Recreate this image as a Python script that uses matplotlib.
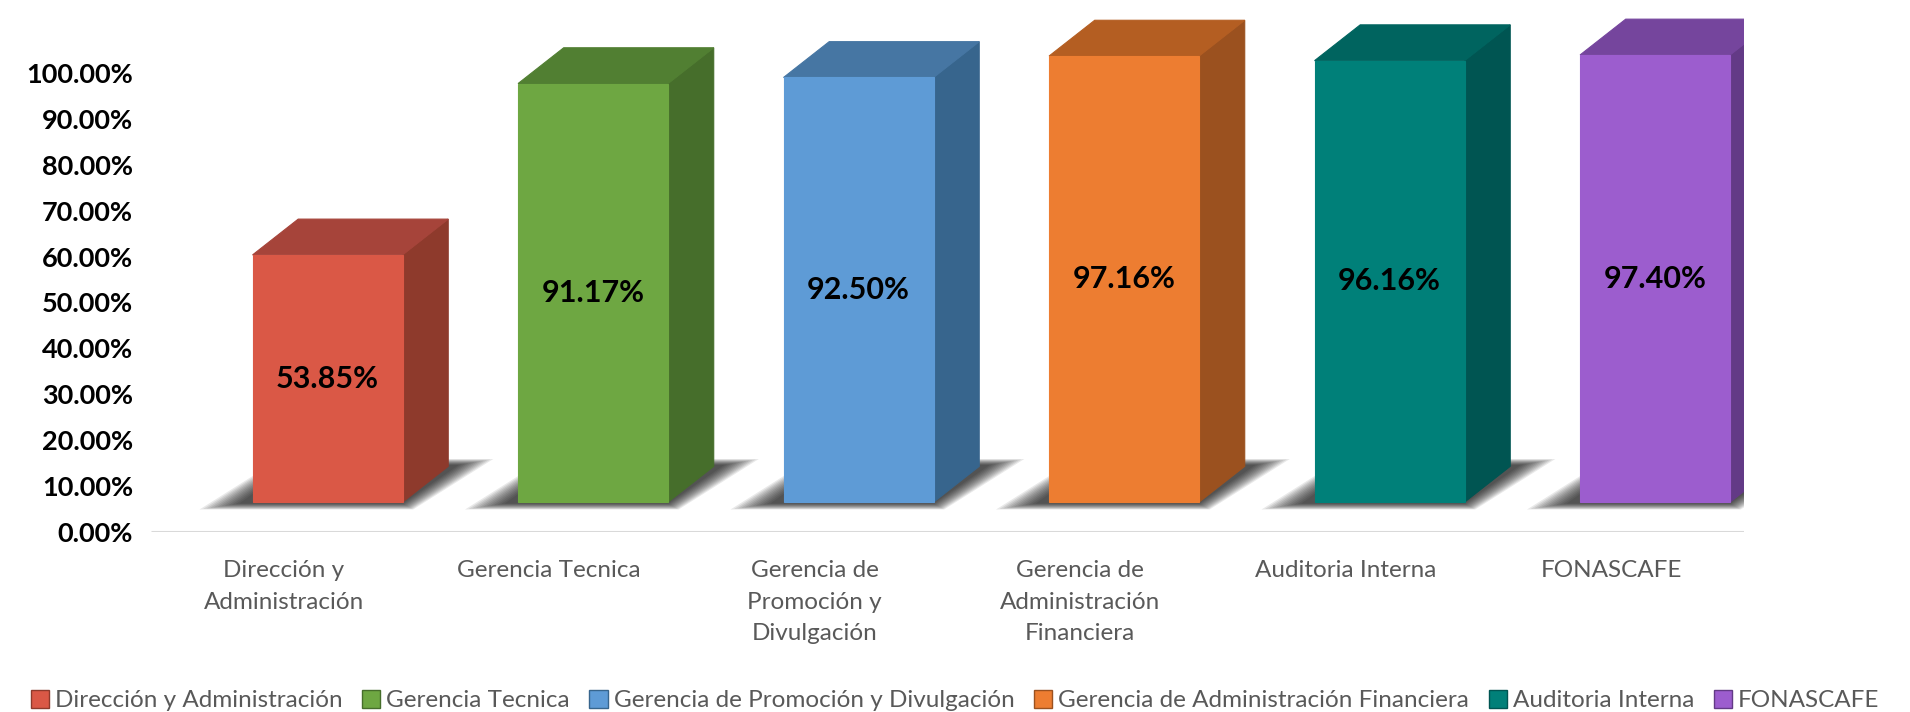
import matplotlib.pyplot as plt
from matplotlib.patches import Polygon, Rectangle, Patch

categories = ['Dirección y Administración', 'Gerencia Tecnica',
              'Gerencia de Promoción y Divulgación',
              'Gerencia de Administración Financiera',
              'Auditoria Interna', 'FONASCAFE']
tick_labels = ['Dirección y\nAdministración', 'Gerencia Tecnica',
               'Gerencia de\nPromoción y\nDivulgación',
               'Gerencia de\nAdministración\nFinanciera',
               'Auditoria Interna', 'FONASCAFE']
values = [53.85, 91.17, 92.50, 97.16, 96.16, 97.40]
y_ticks = [0, 10, 20, 30, 40, 50, 60, 70, 80, 90, 100]

front_colors = ['#DA5846', '#6EA742', '#5E9BD6', '#ED7D31', '#008079', '#9C5DCE']
side_colors = ['#8E3A2C', '#466E2B', '#37658D', '#9B511F', '#005552', '#633A86']
top_colors = ['#A6443A', '#517F32', '#4676A3', '#B45E22', '#00645F', '#75459D']

plt.rcParams['font.family'] = ['Lato', 'DejaVu Sans']

W, H = 1910, 712
fig = plt.figure(figsize=(W / 100, H / 100), dpi=100)
ax = fig.add_axes([151 / W, 180 / H, (1744 - 151) / W, 528 / H])
ax.set_xlim(-0.5, 5.5)
ax.set_ylim(0, 115)

# 3d look parameters (data units)
shift = 0.165   # front face offset from category centre
width = 0.565
lift = 6.5      # front face floats above the floor
dx, dy = 0.172, 7.8

# floor line
ax.plot([-0.5, 5.5], [0, 0], color='#D9D9D9', lw=2.2, zorder=1,
        solid_capstyle='butt')

for i, v in enumerate(values):
    x0 = i + shift - width / 2
    x1 = x0 + width
    b = lift
    t = lift + v

    # soft shadow on the floor, layered from wide/light to tight/dark
    n = 12
    for k in range(n):
        f = 1 - k / (n - 1)   # 1 = outermost
        yb = b - 0.3 - 1.3 * f
        yt = b + dy + 0.3 + 1.3 * f
        sh = [(x0 - 0.05 - 0.15 * f, yb),
              (x1 + 0.0 + 0.04 * f, yb),
              (x1 + dx + 0.04 + 0.13 * f, yt),
              (x0 + dx - 0.02 - 0.05 * f, yt)]
        ax.add_patch(Polygon(sh, closed=True, facecolor='black',
                             edgecolor='none', alpha=0.085, zorder=2))

    # side face
    side = [(x1, b), (x1 + dx, b + dy), (x1 + dx, t + dy), (x1, t)]
    ax.add_patch(Polygon(side, closed=True, facecolor=side_colors[i],
                         edgecolor=side_colors[i], lw=0.8, zorder=3))
    # top face
    top = [(x0, t), (x1, t), (x1 + dx, t + dy), (x0 + dx, t + dy)]
    ax.add_patch(Polygon(top, closed=True, facecolor=top_colors[i],
                         edgecolor=top_colors[i], lw=0.8, zorder=3))
    # front face
    ax.add_patch(Rectangle((x0, b), width, v, facecolor=front_colors[i],
                           edgecolor=front_colors[i], lw=0.8, zorder=4))

    ax.text(i + shift, b + v / 2, '{:.2f}%'.format(v), ha='center',
            va='center', fontsize=22, fontweight='bold', color='black',
            zorder=5)

    ax.text(i, -6.2, tick_labels[i], ha='center', va='top', fontsize=17.5,
            color='#595959', linespacing=1.6)

ax.set_yticks(y_ticks)
ax.set_yticklabels(['{:.2f}%'.format(t) for t in y_ticks], fontsize=19.5,
                   fontweight='bold')
ax.tick_params(axis='y', length=0, pad=13)
ax.set_xticks([])
for s in ax.spines.values():
    s.set_visible(False)

handles = [Patch(facecolor=front_colors[i], edgecolor=side_colors[i],
                 label=categories[i]) for i in range(len(categories))]
fig.legend(handles=handles, loc='lower center', ncol=6, frameon=False,
           fontsize=17.5, bbox_to_anchor=(0.5, -0.03), handlelength=0.75,
           handleheight=0.75, handletextpad=0.25, columnspacing=0.8,
           labelcolor='#595959')

fig.savefig('out.png', dpi=100)
